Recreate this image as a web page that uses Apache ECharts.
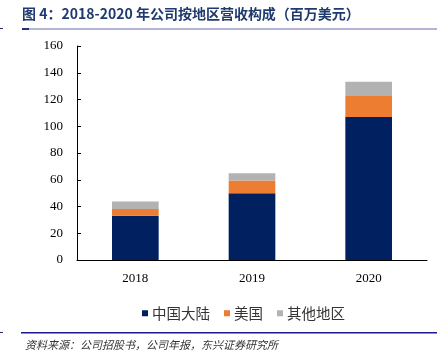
<!DOCTYPE html>
<html><head><meta charset="utf-8">
<script src="https://cdn.jsdelivr.net/npm/echarts@6/dist/echarts.min.js"></script>
<style>html,body{margin:0;padding:0;background:#fff}#c{width:445px;height:364px}</style>
</head><body><div id="c"></div>
<script>
const categories = ['2018', '2019', '2020'];
const chinaMainland = [33, 50, 107];
const usa = [5.2, 9.4, 15.7];
const otherRegions = [5.5, 5.5, 10.5];
const yTicks = { min: 0, max: 160, interval: 20 };
const seriesNames = ['中国大陆', '美国', '其他地区'];
const titleText = '图 4：2018-2020 年公司按地区营收构成（百万美元）';
const sourceText = '资料来源：公司招股书，公司年报，东兴证券研究所';

const chart = echarts.init(document.getElementById('c'), null, {renderer: 'canvas'});
const serif = '"Liberation Serif", "Times New Roman", serif';
const cjk = '"Noto Sans CJK SC", sans-serif';
chart.setOption({
  animation: false,
  color: ['#002060', '#ED7D31', '#B2B2B2'],
  grid: { left: 77, right: 18, top: 46, bottom: 104 },
  legend: {
    top: 301, left: 137,
    itemWidth: 6, itemHeight: 6, itemGap: 14,
    icon: 'rect',
    textStyle: { fontFamily: cjk, fontSize: 14.5, color: '#333', padding: [0,0,0,-1] },
    data: seriesNames
  },
  xAxis: {
    type: 'category', data: categories,
    axisLine: { lineStyle: { color: '#000', width: 1 } },
    axisTick: { show: false },
    axisLabel: { fontFamily: serif, fontSize: 13, color: '#000', margin: 12 }
  },
  yAxis: {
    type: 'value', min: yTicks.min, max: yTicks.max, interval: yTicks.interval,
    axisLine: { show: true, lineStyle: { color: '#000', width: 1 } },
    axisTick: { show: true, inside: true, length: 4, lineStyle: { color: '#000' } },
    splitLine: { show: false },
    axisLabel: { fontFamily: serif, fontSize: 13, color: '#000', margin: 14 }
  },
  series: [
    { name: seriesNames[0], type: 'bar', stack: 't', data: chinaMainland, barWidth: '40%' },
    { name: seriesNames[1], type: 'bar', stack: 't', data: usa, barWidth: '40%' },
    { name: seriesNames[2], type: 'bar', stack: 't', data: otherRegions, barWidth: '40%' }
  ],
  graphic: [
    { type: 'text', left: 22, top: 7, style: { text: titleText, font: 'bold 14px ' + cjk, fill: '#1F3A6E' } },
    { type: 'rect', shape: { x: 22, y: 28.5, width: 415, height: 1 }, style: { fill: '#6B6BB0' } },
    { type: 'rect', shape: { x: 22, y: 28, width: 7, height: 2 }, style: { fill: '#2B2B7A' } },
    { type: 'rect', shape: { x: 0, y: 28, width: 3, height: 1 }, style: { fill: '#2B2B7A' } },
    { type: 'rect', shape: { x: 21, y: 332, width: 416, height: 1.5 }, style: { fill: '#1A1A8C' } },
    { type: 'rect', shape: { x: 0, y: 332, width: 3, height: 1 }, style: { fill: '#2B2B7A' } },
    { type: 'text', left: 25, top: 339, style: { text: sourceText, font: 'italic 11px ' + cjk, fill: '#333' } }
  ]
});
</script></body></html>
